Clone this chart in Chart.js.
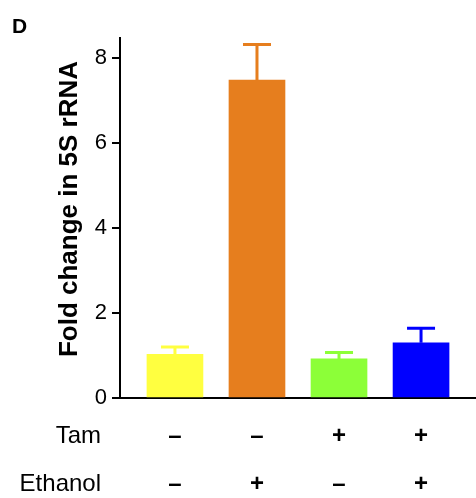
<!DOCTYPE html>
<html>
<head>
<meta charset="utf-8">
<script src="https://cdn.jsdelivr.net/npm/chart.js@4.4.0/dist/chart.umd.min.js"></script>
<style>
  body { margin: 0; background: #fff; }
</style>
</head>
<body>
<canvas id="chart" width="476" height="498"></canvas>
<script>
// values
const groups = [0, 1, 2, 3];
const tamRow = ['–', '–', '+', '+'];
const ethanolRow = ['–', '+', '–', '+'];
const foldChange = [1.03, 7.48, 0.92, 1.30];
const errorUp = [0.17, 0.84, 0.15, 0.34];
const barColors = ['#ffff40', '#e67e1e', '#8cff38', '#0000ff'];
const yTicks = [0, 2, 4, 6, 8];
const rowNames = ['Tam', 'Ethanol'];
const yTitle = 'Fold change in 5S rRNA';

const fontFamily = '"Liberation Sans", Arial, sans-serif';
const ctx = document.getElementById('chart');

// upward error bars, same colour as the bar
const errorBars = {
    id: 'errorBars',
    afterDatasetsDraw(chart) {
        const c = chart.ctx;
        const y = chart.scales.y;
        const meta = chart.getDatasetMeta(0);
        meta.data.forEach((bar, i) => {
            const top = y.getPixelForValue(foldChange[i] + errorUp[i]);
            c.save();
            c.strokeStyle = barColors[i];
            c.lineWidth = 3;
            c.beginPath();
            c.moveTo(bar.x, bar.y);
            c.lineTo(bar.x, top);
            c.moveTo(bar.x - 14, top);
            c.lineTo(bar.x + 14, top);
            c.stroke();
            c.restore();
        });
    }
};

// panel letter, y title and row names beside the +/- rows
const extraText = {
    id: 'extraText',
    afterDraw(chart) {
        const c = chart.ctx;
        const x = chart.scales.x;
        const pad = x.options.ticks.padding;
        const lh = 48;
        c.save();
        c.fillStyle = '#000';
        c.font = 'bold 21px ' + fontFamily;
        c.textBaseline = 'alphabetic';
        c.textAlign = 'left';
        c.fillText('D', 12, 33);

        c.save();
        c.translate(70, 209);
        c.rotate(-Math.PI / 2);
        c.font = 'bold 26px ' + fontFamily;
        c.textAlign = 'center';
        c.textBaseline = 'middle';
        c.fillText(yTitle, 0, 0);
        c.restore();

        c.font = '24px ' + fontFamily;
        c.textAlign = 'right';
        c.textBaseline = 'middle';
        rowNames.forEach((name, i) => {
            c.fillText(name, 101, x.top + pad + lh / 2 + i * lh);
        });
        c.restore();
    }
};

new Chart(ctx, {
    type: 'bar',
    data: {
        datasets: [{
            data: groups.map(i => ({ x: i, y: foldChange[i] })),
            backgroundColor: barColors,
            borderWidth: 0,
            barThickness: 56
        }]
    },
    options: {
        responsive: false,
        animation: false,
        layout: { padding: { top: 38, right: 0, left: 0, bottom: 0 } },
        plugins: {
            legend: { display: false },
            tooltip: { enabled: false }
        },
        scales: {
            x: {
                type: 'linear',
                offset: false,
                min: -0.67,
                max: 3.67,
                afterBuildTicks: scale => {
                    scale.ticks = groups.map(v => ({ value: v }));
                },
                afterFit: scale => { scale.height = 100; },
                grid: { drawOnChartArea: false, drawTicks: false, tickLength: 0, offset: false },
                border: { color: '#000', width: 2 },
                ticks: {
                    padding: 14,
                    color: '#000',
                    font: { family: fontFamily, size: 24, weight: 'bold', lineHeight: 2 },
                    maxRotation: 0,
                    callback: (value) => [tamRow[value], ethanolRow[value]]
                }
            },
            y: {
                min: 0,
                max: 8.47,
                afterBuildTicks: scale => {
                    scale.ticks = yTicks.map(v => ({ value: v }));
                },
                afterFit: scale => { scale.width = 120; },
                grid: { drawOnChartArea: false, drawTicks: true, tickLength: 8, color: '#000', lineWidth: 2 },
                border: { color: '#000', width: 2 },
                ticks: {
                    padding: 5,
                    color: '#000',
                    font: { family: fontFamily, size: 22 }
                }
            }
        }
    },
    plugins: [errorBars, extraText]
});
</script>
</body>
</html>
